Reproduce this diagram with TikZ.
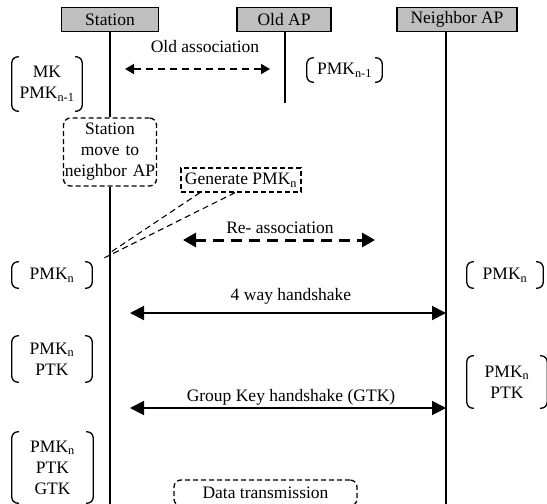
\documentclass[tikz,border=0pt]{standalone}
\usepackage{fontspec}
\setmainfont{Liberation Serif}
\usetikzlibrary{arrows.meta}
\begin{document}
\begin{tikzpicture}[x=1pt,y=-1pt,
  font=\fontsize{17.5}{21}\selectfont,
  hdr/.style={draw, line width=1.6pt, fill=black!25, minimum height=24pt, inner sep=0pt},
  life/.style={line width=1.3pt},
  keys/.style={align=center, inner sep=0pt},
  brk/.style={line width=1.3pt, rounded corners=6pt},
  dbox/.style={draw, line width=1.3pt, dash pattern=on 5pt off 3pt, align=center, inner sep=0pt},
  lbl/.style={inner sep=0pt},
  oldarr/.style={line width=1.8pt, dash pattern=on 7pt off 5pt, {Triangle[length=9pt,width=10pt]}-{Triangle[length=9pt,width=10pt]}},
  rearr/.style={line width=3pt, dash pattern=on 11pt off 7pt, {Triangle[length=13pt,width=14pt]}-{Triangle[length=13pt,width=14pt]}},
  hsarr/.style={line width=2pt, {Triangle[length=14pt,width=14pt]}-{Triangle[length=14pt,width=14pt]}},
  genln/.style={line width=1.1pt, dash pattern=on 6pt off 4pt}
]
\useasboundingbox (0,0) rectangle (547,504);

% headers
\node[hdr, minimum width=97pt] (st) at (110,19.5) {Station};
\node[hdr, minimum width=94pt] (old) at (284,19.5) {Old AP};
\node[hdr, minimum width=120pt] (nb) at (457,19.5) {Neighbor AP};

% boxes on the station line
\node[dbox, rounded corners=7pt, minimum width=93pt, minimum height=68pt, text width=93pt] (move) at (110,152) {Station\\move to\\neighbor AP};
\node[dbox, minimum width=120pt, minimum height=24pt] (gen) at (241,180) {Generate PMK\textsubscript{n}};
\node[dbox, rounded corners=7pt, minimum width=183pt, minimum height=26pt] (data) at (265.5,493) {Data transmission};

% lifelines
\coordinate (oldEnd) at (285,103);
\coordinate (stEnd) at (110,504);
\coordinate (nbTop) at (446,31.5);
\coordinate (nbEnd) at (446,504);
\draw[life] (st.south) -- (move.north);
\draw[life] (move.south) -- (stEnd);
\draw[life] (old.south -| oldEnd) -- (oldEnd);
\draw[life] (nbTop) -- (nbEnd);

% generate lines
\coordinate (g1) at (111,252);
\coordinate (g2) at (102,259);
\draw[genln] ([xshift=-41pt]gen.south) -- (g1);
\draw[genln] ([xshift=-6pt]gen.south) -- (g2);

% key nodes
\node[keys, minimum width=70pt, minimum height=54pt] (k1) at (47,84) {MK\\PMK\textsubscript{n-1}};
\node[keys, minimum width=75pt, minimum height=24pt] (ok1) at (344.5,70) {PMK\textsubscript{n-1}};
\node[keys, minimum width=80pt, minimum height=26pt] (k2) at (52,275) {PMK\textsubscript{n}};
\node[keys, minimum width=76pt, minimum height=26pt] (n2) at (505,275) {PMK\textsubscript{n}};
\node[keys, minimum width=80pt, minimum height=46pt] (k3) at (52,359) {PMK\textsubscript{n}\\PTK};
\node[keys, minimum width=80pt, minimum height=52pt] (n3) at (507,382) {PMK\textsubscript{n}\\PTK};
\node[keys, minimum width=81pt, minimum height=71pt] (k4) at (52.5,467.5) {PMK\textsubscript{n}\\PTK\\GTK};

\foreach \k in {k1,ok1,k2,n2,k3,n3,k4}{
  \draw[brk] ([xshift=7pt]\k.north west) -| (\k.south west) -- ++(7,0);
  \draw[brk] ([xshift=-7pt]\k.north east) -| (\k.south east) -- ++(-7,0);
}

% messages
\node[lbl] (oaL) at (205,47) {Old association};
\coordinate (oa1) at (125,69);
\coordinate (oa2) at (270,69);
\draw[oldarr] (oa1) -- (oa2);

\node[lbl] (raL) at (280,228) {Re- association};
\coordinate (ra1) at (183,240);
\coordinate (ra2) at (375,240);
\draw[rearr] (ra1) -- (ra2);

\node[lbl] (fwL) at (291,296) {4 way handshake};
\coordinate (fw1) at (130,313);
\coordinate (fw2) at (446,313);
\draw[hsarr] (fw1) -- (fw2);

\node[lbl] (gkL) at (291,397) {Group Key handshake (GTK)};
\coordinate (gk1) at (130,408);
\coordinate (gk2) at (446,408);
\draw[hsarr] (gk1) -- (gk2);
\end{tikzpicture}
\end{document}
